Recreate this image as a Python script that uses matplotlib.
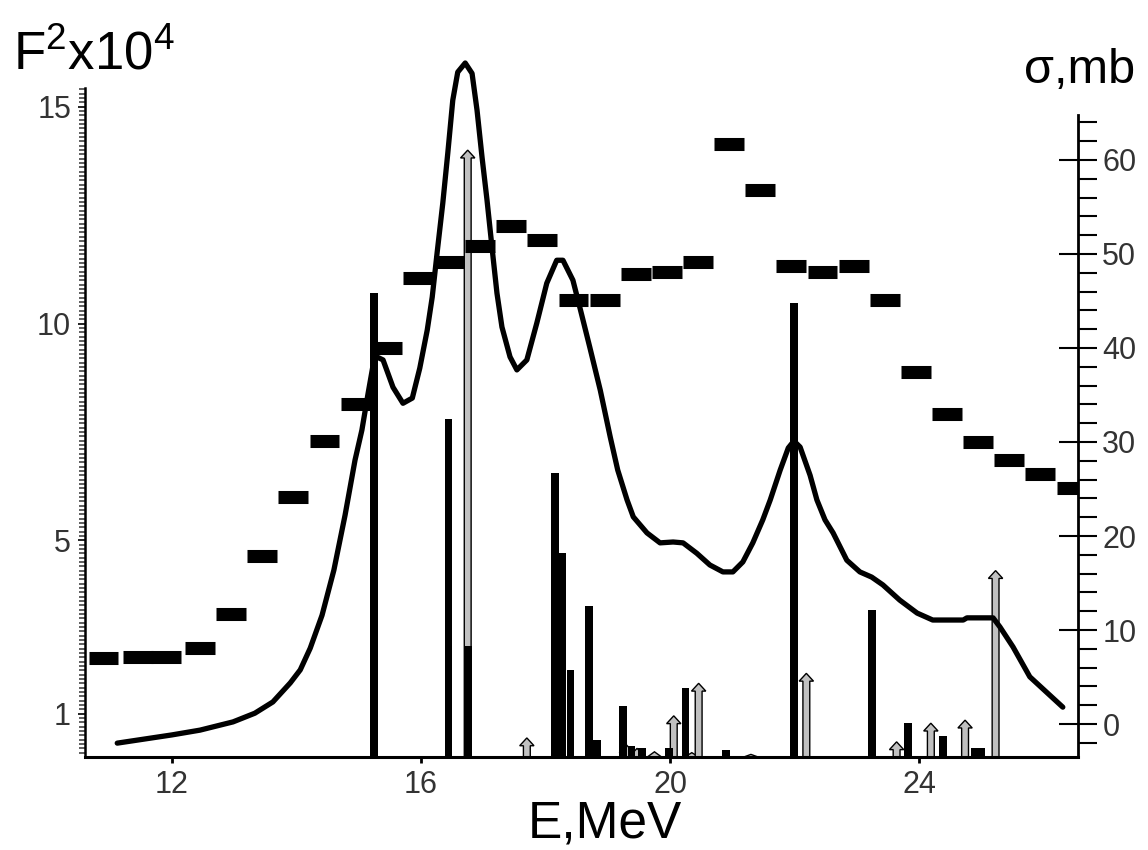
import numpy as np
import matplotlib.pyplot as plt
from matplotlib.ticker import FixedLocator

plt.rcParams['font.family'] = ['Liberation Sans', 'DejaVu Sans']
plt.rcParams['mathtext.fontset'] = 'custom'
plt.rcParams['mathtext.rm'] = 'Liberation Sans'

# Black bars: F^2 x 10^4 (left axis)
bar_e = [15.25, 16.44, 16.75, 18.15, 18.27, 18.40, 18.70, 18.83, 19.25, 19.38,
         19.55, 19.98, 20.25, 20.90, 21.99, 23.24, 23.82, 24.39, 24.90, 25.00]
bar_f = [10.7, 7.8, 2.56, 6.55, 4.7, 2.0, 3.48, 0.40, 1.18, 0.25,
         0.2, 0.2, 1.6, 0.17, 10.47, 3.39, 0.78, 0.48, 0.2, 0.2]

# Gray arrows (lower limits, left axis)
arrow_e = [16.75, 17.70, 19.30, 19.47, 19.75, 20.06, 20.35, 20.46, 21.30,
           22.19, 23.64, 24.19, 24.74, 25.23]
arrow_f = [14.0, 0.44, 0.28, 0.2, 0.12, 0.95, 0.1, 1.7, 0.06,
           1.93, 0.35, 0.78, 0.85, 4.3]

# Experimental cross section, sigma in mb (right axis)
exp_e = [10.9, 11.45, 11.9, 12.45, 12.95, 13.45, 13.95, 14.45, 14.95, 15.45,
         15.95, 16.45, 16.95, 17.45, 17.95, 18.45, 18.95, 19.45, 19.95, 20.45,
         20.95, 21.45, 21.95, 22.45, 22.95, 23.45, 23.95, 24.45, 24.95, 25.45,
         25.95, 26.45]
exp_sigma = [7.0, 7.1, 7.1, 8.1, 11.7, 17.9, 24.1, 30.1, 34.0, 40.0,
             47.4, 49.1, 50.9, 53.0, 51.5, 45.1, 45.1, 47.9, 48.1, 49.1,
             61.7, 56.8, 48.7, 48.1, 48.7, 45.1, 37.4, 33.0, 30.0, 28.1,
             26.6, 25.1]

# Smoothed strength curve (left axis)
curve_e = [11.12, 12.00, 12.45, 12.98, 13.33, 13.62, 13.90, 14.06, 14.22, 14.41,
           14.60, 14.78, 14.94, 15.05, 15.15, 15.23, 15.29, 15.39, 15.55, 15.71,
           15.86, 15.98, 16.10, 16.18, 16.26, 16.35, 16.43, 16.51, 16.59, 16.71,
           16.82, 16.90, 16.98, 17.06, 17.14, 17.22, 17.30, 17.43, 17.54, 17.70,
           17.86, 18.02, 18.18, 18.28, 18.44, 18.55, 18.71, 18.88, 19.04, 19.16,
           19.31, 19.41, 19.63, 19.84, 20.05, 20.21, 20.43, 20.64, 20.85, 21.01,
           21.17, 21.33, 21.49, 21.61, 21.77, 21.90, 21.99, 22.09, 22.25, 22.36,
           22.49, 22.62, 22.84, 23.05, 23.24, 23.42, 23.69, 23.97, 24.22, 24.71,
           24.77, 25.19, 25.30, 25.51, 25.78, 26.06, 26.31]
curve_f = [0.32, 0.51, 0.62, 0.81, 1.01, 1.27, 1.71, 2.01, 2.51, 3.27,
           4.31, 5.58, 6.85, 7.54, 8.39, 9.04, 9.23, 9.16, 8.53, 8.16,
           8.28, 8.97, 9.85, 10.61, 11.65, 12.78, 13.93, 15.15, 15.80, 16.01,
           15.77, 14.92, 13.84, 12.85, 11.76, 10.70, 9.92, 9.23, 8.93, 9.16,
           10.01, 10.93, 11.46, 11.46, 11.00, 10.38, 9.46, 8.46, 7.38, 6.62,
           5.93, 5.54, 5.17, 4.94, 4.96, 4.94, 4.70, 4.43, 4.27, 4.27,
           4.50, 4.94, 5.47, 5.93, 6.62, 7.13, 7.29, 7.15, 6.50, 5.93,
           5.47, 5.17, 4.54, 4.27, 4.15, 3.97, 3.62, 3.32, 3.16, 3.16,
           3.21, 3.21, 3.00, 2.54, 1.85, 1.48, 1.15]

label_color = '#333333'

fig = plt.figure(figsize=(11.48, 8.5), dpi=100)
ax = fig.add_axes([0.07404, 0.10941, 0.86498, 0.83176])
ax2 = ax.twinx()

ax.set_xlim(10.602, 26.554)
ax.set_ylim(0, 16.31)
ax2.set_ylim(-3.51, 71.7)

# arrows first, bars on top
for e, f in zip(arrow_e, arrow_f):
    ax.arrow(e, 0, 0, f, width=0.11, head_width=0.23, head_length=min(0.18, f),
             length_includes_head=True, fc='#c0c0c0', ec='black', lw=1.0, zorder=2)
ax.bar(bar_e, bar_f, width=0.125, color='black', zorder=3)
ax.plot(curve_e, curve_f, color='black', lw=3.8, zorder=4,
        solid_joinstyle='round', solid_capstyle='round')

ex = np.array(exp_e)
ax2.hlines(exp_sigma, ex - 0.24, ex + 0.24, colors='black', linewidth=9.4,
           capstyle='butt', zorder=5)

# spines
ax.spines['top'].set_visible(False)
ax.spines['right'].set_visible(False)
ax.spines['left'].set_bounds(0, 15.43)
ax.spines['left'].set_linewidth(1.8)
ax.spines['bottom'].set_linewidth(2.2)
for s in ['top', 'left', 'bottom']:
    ax2.spines[s].set_visible(False)
ax2.spines['right'].set_bounds(-3.51, 64.8)
ax2.spines['right'].set_linewidth(2.0)

# x ticks
ax.set_xticks([12, 16, 20, 24])
ax.tick_params(axis='x', direction='out', length=4.5, width=2, pad=5,
               labelsize=22, labelcolor=label_color)

# left ticks
ax.set_yticks([1, 5, 10, 15])
ax.yaxis.set_minor_locator(FixedLocator(np.arange(0.1, 15.45, 0.1)))
ax.tick_params(axis='y', which='major', direction='out', length=5, width=1.2,
               pad=5, labelsize=22, labelcolor=label_color)
ax.tick_params(axis='y', which='minor', direction='out', length=4.5, width=1.2,
               color='#444444')

# right ticks
ax2.set_yticks(np.arange(0, 61, 10))
ax2.yaxis.set_minor_locator(FixedLocator([v for v in np.arange(-2, 65, 2) if v % 10 != 0]))
ax2.tick_params(axis='y', which='major', direction='inout', length=27, width=1.5,
                pad=4, labelsize=22, labelcolor=label_color)
ax2.tick_params(axis='y', which='minor', direction='out', length=14, width=1.5)

fig.text(13 / 1148, 1 - 70 / 850, r'F$^\mathregular{2}$x10$^\mathregular{4}$',
         fontsize=38, ha='left', va='baseline')
fig.text(1135 / 1148, 1 - 83 / 850, 'σ,mb', fontsize=35, ha='right', va='baseline')
fig.text(605 / 1148, 1 - 838 / 850, 'E,MeV', fontsize=37, ha='center', va='baseline')

fig.savefig('out.png', dpi=100)
